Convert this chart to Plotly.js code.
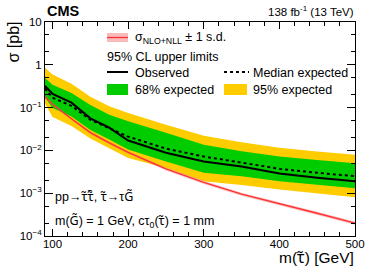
<!DOCTYPE html>
<html><head><meta charset="utf-8">
<script src="https://cdn.plot.ly/plotly-3.0.1.min.js"></script>
<style>html,body{margin:0;padding:0;background:#fff}#chart{width:374px;height:269px}</style>
</head><body><div id="chart"></div>
<script>
// Data
var mass      = [90, 100, 125, 150, 175, 200, 250, 300, 350, 400, 450, 500];
var observed  = [0.32, 0.21, 0.13, 0.056, 0.034, 0.017, 0.0088, 0.0055, 0.0042, 0.0029, 0.0023, 0.0019];
var expected  = [0.28, 0.17, 0.11, 0.052, 0.033, 0.021, 0.011, 0.0072, 0.0052, 0.0037, 0.0030, 0.0025];
var exp68Up   = [0.49, 0.34, 0.22, 0.115, 0.068, 0.048, 0.026, 0.0135, 0.0095, 0.0072, 0.0060, 0.0050];
var exp68Down = [0.17, 0.098, 0.062, 0.030, 0.018, 0.0105, 0.0055, 0.0030, 0.0025, 0.0019, 0.00155, 0.0013];
var exp95Up   = [0.85, 0.59, 0.36, 0.18, 0.107, 0.075, 0.040, 0.022, 0.0155, 0.0115, 0.0094, 0.0079];
var exp95Down = [0.125, 0.06, 0.037, 0.019, 0.0113, 0.0066, 0.0039, 0.0019, 0.00156, 0.00122, 0.00098, 0.00080];
var xsec      = [0.18, 0.12, 0.055, 0.026, 0.015, 0.009, 0.0037, 0.0018, 0.00095, 0.00058, 0.00034, 0.0002];
var xsecUp    = [0.195, 0.13, 0.059, 0.028, 0.0161, 0.0097, 0.004, 0.00195, 0.00103, 0.00063, 0.00037, 0.000218];
var xsecDown  = [0.165, 0.11, 0.051, 0.024, 0.0139, 0.0083, 0.0034, 0.00165, 0.00087, 0.00053, 0.00031, 0.000182];
var yTickVals = [1e-4, 1e-3, 1e-2, 1e-1, 1, 10];
var yTickText = ['10<sup>−4</sup>', '10<sup>−3</sup>', '10<sup>−2</sup>', '10<sup>−1</sup>', '1', '10'];

function band(lo, hi, color) {
  return {x: mass.concat(mass.slice().reverse()), y: hi.concat(lo.slice().reverse()),
          type: 'scatter', mode: 'lines', fill: 'toself', fillcolor: color,
          line: {width: 0, color: color}, hoverinfo: 'skip', showlegend: false};
}
var traces = [
  band(exp95Down, exp95Up, '#ffcc00'),
  band(exp68Down, exp68Up, '#00cc00'),
  band(xsecDown, xsecUp, 'rgba(240,120,120,0.45)'),
  {x: mass, y: xsec, type: 'scatter', mode: 'lines', line: {color: '#ff3030', width: 1.3}, showlegend: false},
  {x: mass, y: expected, type: 'scatter', mode: 'lines', line: {color: '#000', width: 2, dash: 'dot'}, showlegend: false},
  {x: mass, y: observed, type: 'scatter', mode: 'lines', line: {color: '#000', width: 2}, showlegend: false}
];

var F = 'Liberation Sans, Arial, Helvetica, sans-serif';
function acc(s) { return '<span style="font-family:Noto Sans">' + s + '</span>'; }
var stau = acc('τ\u0303'), staubar = acc('τ\u0303\u0304'), grav = acc('G\u0303');
function px2x(p) { return (p - 45) / 310; }
function px2y(p) { return (236 - p) / 214; }
function txt(t, xp, yp, size, xa, extra) {
  var a = {text: t, xref: 'paper', yref: 'paper', x: px2x(xp), y: px2y(yp), xanchor: xa || 'left',
           yanchor: 'middle', showarrow: false, font: {family: F, size: size || 12.5, color: '#000'}};
  if (extra) for (var k in extra) a[k] = extra[k];
  return a;
}
var annotations = [
  txt('<b>CMS</b>', 45, 11, 14.5, 'left'),
  txt('138 fb<sup>-1</sup> (13 TeV)', 356, 11, 11.5, 'right'),
  txt('σ<sub>NLO+NLL</sub> ± 1 s.d.', 133, 38, 12.5),
  txt('95% CL upper limits', 105, 57, 12.5),
  txt('Observed', 133, 73, 12.5),
  txt('Median expected', 251, 73, 12.5),
  txt('68% expected', 133, 90, 12.5),
  txt('95% expected', 251, 90, 12.5),
  txt('pp→' + stau + staubar + ', ' + stau + '→τ' + grav, 53, 196, 12.5),
  txt('m(' + grav + ') = 1 GeV, cτ<sub>0</sub>(' + stau + ') = 1 mm', 53, 221, 12.5),
  txt('m(' + stau + ') [GeV]', 356, 257, 15.5, 'right'),
  txt('σ [pb]', 13, 20, 16, 'center', {textangle: -90, yanchor: 'top'})
];
function rect(x0, y0, x1, y1, fill) {
  return {type: 'rect', xref: 'paper', yref: 'paper', x0: px2x(x0), x1: px2x(x1), y0: px2y(y0), y1: px2y(y1),
          fillcolor: fill, line: {width: 0}};
}
function hline(x0, x1, y, color, w, dash) {
  return {type: 'line', xref: 'paper', yref: 'paper', x0: px2x(x0), x1: px2x(x1), y0: px2y(y), y1: px2y(y),
          line: {color: color, width: w, dash: dash || 'solid'}};
}
var shapes = [
  rect(107, 33, 128, 42, 'rgba(240,120,120,0.5)'),
  hline(107, 128, 37.5, '#ff3030', 1.3),
  hline(107, 128, 72, '#000', 2),
  hline(224, 249, 72, '#000', 2, 'dot'),
  rect(107, 84, 128, 95, '#00cc00'),
  rect(224, 84, 247, 95, '#ffcc00')
];

var layout = {
  width: 374, height: 269,
  margin: {l: 45, r: 19, t: 22, b: 33, pad: 0},
  paper_bgcolor: '#fff', plot_bgcolor: '#fff',
  showlegend: false,
  font: {family: F, size: 11, color: '#000'},
  xaxis: {range: [90, 500], tickvals: [100, 200, 300, 400, 500], ticks: 'inside', ticklen: 7, tickwidth: 1,
          ticklabelstandoff: -3,
          minor: {dtick: 20, tick0: 0, ticks: 'inside', ticklen: 4, tickcolor: '#000'},
          showline: true, linecolor: '#000', linewidth: 1, mirror: 'ticks', showgrid: false, zeroline: false,
          tickfont: {family: F, size: 11.5}, tickcolor: '#000'},
  yaxis: {type: 'log', range: [-4, 1], tickvals: yTickVals, ticktext: yTickText, ticks: 'inside', ticklen: 8,
          minor: {ticks: 'inside', ticklen: 4, tickcolor: '#000'},
          showline: true, linecolor: '#000', linewidth: 1, mirror: 'ticks', showgrid: false, zeroline: false,
          tickfont: {family: F, size: 11.5}, tickcolor: '#000'},
  annotations: annotations,
  shapes: shapes
};
Plotly.newPlot('chart', traces, layout, {staticPlot: true, displayModeBar: false});
</script></body></html>
